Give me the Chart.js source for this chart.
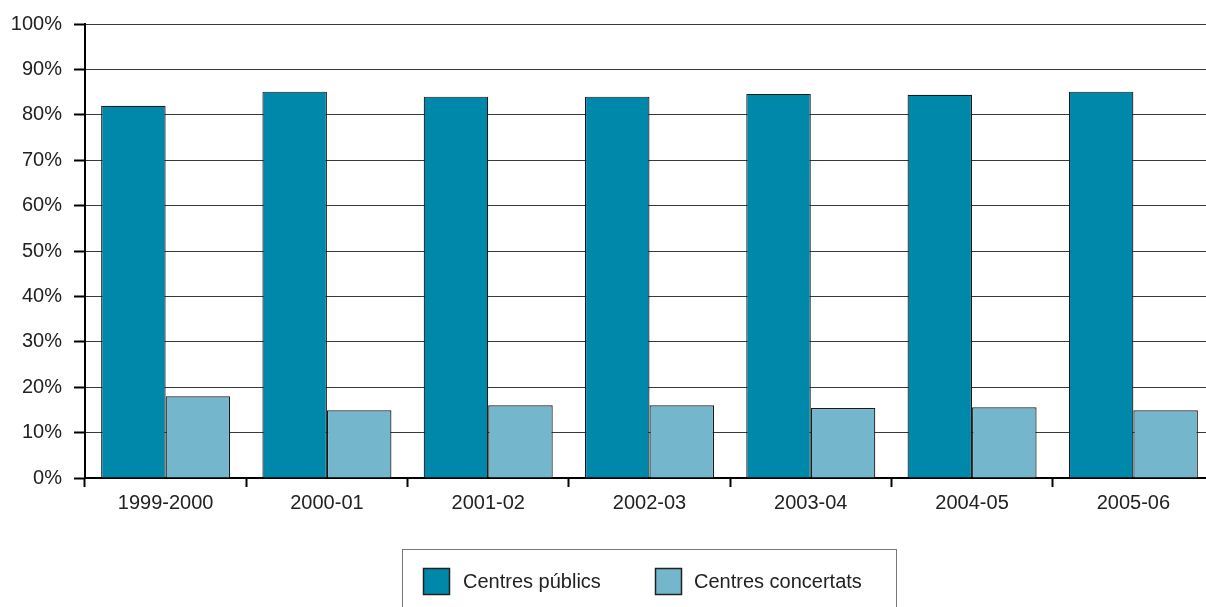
<!DOCTYPE html>
<html><head><meta charset="utf-8">
<script src="https://cdn.jsdelivr.net/npm/chart.js@4.4.1/dist/chart.umd.min.js"></script>
<style>html,body{margin:0;padding:0;background:#fff;overflow:hidden}#wrap{width:1206px;height:607px;position:relative;overflow:hidden}canvas{display:block}</style>
</head><body><div id="wrap"><canvas id="c" width="1214" height="607"></canvas></div>
<script>
const categories = ["1999-2000","2000-01","2001-02","2002-03","2003-04","2004-05","2005-06"];
const publicLabel = "Centres públics";
const concertLabel = "Centres concertats";
const publicValues = [82.0, 85.1, 84.0, 84.0, 84.6, 84.4, 85.1];
const concertValues = [18.0, 14.9, 16.0, 16.0, 15.4, 15.6, 14.9];
const yTicks = [0,10,20,30,40,50,60,70,80,90,100];

const FONT = "'Liberation Sans', Arial, sans-serif";
const legendPlugin = {
  id: 'boxLegend',
  afterDraw(chart) {
    const ctx = chart.ctx;
    ctx.save();
    ctx.strokeStyle = '#777';
    ctx.lineWidth = 1;
    ctx.strokeRect(402.5, 549.5, 494, 80);
    const items = [
      {x: 423, tx: 463, ds: chart.data.datasets[0]},
      {x: 655, tx: 694, ds: chart.data.datasets[1]}
    ];
    ctx.font = "20px " + FONT;
    ctx.textBaseline = 'middle';
    items.forEach(it => {
      ctx.fillStyle = it.ds.backgroundColor;
      ctx.fillRect(it.x, 568, 27, 27);
      ctx.strokeStyle = '#222';
      ctx.lineWidth = 1.5;
      ctx.strokeRect(it.x + 0.5, 568.5, 26, 26);
      ctx.fillStyle = '#222';
      ctx.fillText(it.ds.label, it.tx, 582);
    });
    ctx.restore();
  }
};

new Chart(document.getElementById('c'), {
  type: 'bar',
  data: {
    labels: categories,
    datasets: [
      {label: publicLabel, data: publicValues, backgroundColor: '#0088AB', borderColor: '#1a1a1a', borderWidth: 1.2},
      {label: concertLabel, data: concertValues, backgroundColor: '#74B6CC', borderColor: '#1a1a1a', borderWidth: 1.2}
    ]
  },
  options: {
    responsive: false,
    animation: false,
    devicePixelRatio: 1,
    layout: {padding: {left: 0, right: 0, top: 22, bottom: 0}},
    plugins: {legend: {display: false}, tooltip: {enabled: false}},
    datasets: {bar: {categoryPercentage: 0.8, barPercentage: 1.0}},
    scales: {
      x: {
        grid: {display: true, drawOnChartArea: false, offset: true, tickLength: 9, tickColor: '#000', tickWidth: 2},
        border: {color: '#000', width: 2},
        ticks: {font: {size: 20, family: FONT}, color: '#222', padding: 4, maxRotation: 0},
        afterFit(s) { s.height = 129; }
      },
      y: {
        min: 0, max: 100,
        afterBuildTicks(s) { s.ticks = yTicks.map(v => ({value: v})); },
        grid: {color: '#3a3a3a', lineWidth: 1, tickLength: 11, tickColor: '#000', tickWidth: 2},
        border: {color: '#000', width: 2},
        ticks: {font: {size: 20, family: FONT}, color: '#222', padding: 12, callback: v => v + '%'},
        afterFit(s) { s.width = 85; }
      }
    }
  },
  plugins: [legendPlugin]
});
</script></body></html>
